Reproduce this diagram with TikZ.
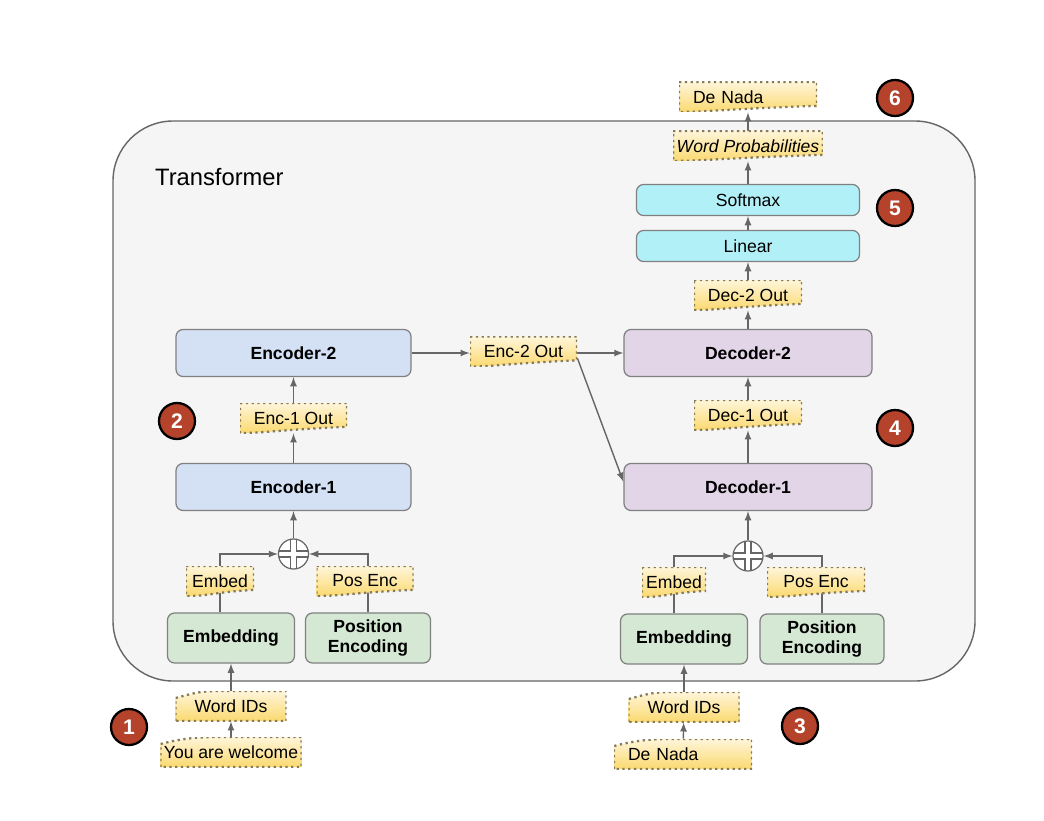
\documentclass[tikz,border=0pt]{standalone}
\usepackage{fontspec}
\setmainfont{Liberation Sans}
\usetikzlibrary{calc}

\definecolor{bggray}{HTML}{F5F5F5}
\definecolor{encblue}{HTML}{D4E1F5}
\definecolor{decpurple}{HTML}{E1D5E7}
\definecolor{embgreen}{HTML}{D5E8D4}
\definecolor{outcyan}{HTML}{B2F0F8}
\definecolor{tagtop}{HTML}{FFF6DA}
\definecolor{tagbot}{HTML}{FBD970}
\definecolor{tagline}{HTML}{857A5A}
\definecolor{numred}{HTML}{B5422B}
\definecolor{wire}{HTML}{666666}

\def\ppb{path picture bounding box}

\pgfdeclarelayer{back}
\pgfdeclarelayer{wires}
\pgfsetlayers{back,wires,main}

\tikzset{
  blk/.style={draw=black!50, rounded corners=4pt, line width=0.7pt, font=\bfseries, align=center},
  encbox/.style={blk, fill=encblue, minimum width=4.7cm, minimum height=0.94cm},
  decbox/.style={blk, fill=decpurple, minimum width=4.96cm, minimum height=0.94cm},
  embbox/.style={blk, fill=embgreen, minimum width=2.54cm, minimum height=1.0cm, font=\fontsize{10}{11.5}\selectfont\bfseries},
  outbox/.style={blk, fill=outcyan, minimum width=4.46cm, minimum height=0.62cm, font=\normalsize},
  tag/.style={minimum height=0.6cm, inner sep=2pt},
  lefttext/.style={inner xsep=0.28cm, text width=#1, align=left},
  tagout/.style={tag, path picture={
      \shadedraw[top color=tagtop, bottom color=tagbot, draw=tagline, dotted, line width=1.3pt]
        (\ppb.north west) -- (\ppb.north east) -- ([yshift=3.5pt]\ppb.south east)
        .. controls ([xshift=-0.2cm,yshift=2pt]\ppb.south) and ([xshift=0.5cm]\ppb.south west)
        .. (\ppb.south west) -- cycle;}},
  tagin/.style={tag, path picture={
      \shadedraw[top color=tagtop, bottom color=tagbot, draw=tagline, dotted, line width=1.3pt]
        (\ppb.south west) -- ([yshift=-4pt]\ppb.north west)
        .. controls ([xshift=0.4cm,yshift=-1pt]\ppb.north west) and ([xshift=-0.4cm]$(\ppb.north west)!0.4!(\ppb.north east)$)
        .. ($(\ppb.north west)!0.4!(\ppb.north east)$) -- (\ppb.north east) -- (\ppb.south east) -- cycle;}},
  num/.style={circle, fill=numred, draw=black, line width=1.3pt, minimum size=0.72cm, inner sep=0pt,
    text=white, font=\large\bfseries},
  plus/.style={circle, draw=wire, fill=white, line width=0.7pt, minimum size=0.6cm, inner sep=0pt,
    path picture={
      \draw[wire, line width=4.2pt] (\ppb.north) -- (\ppb.south) (\ppb.west) -- (\ppb.east);
      \draw[white, line width=2.8pt] (\ppb.north) -- (\ppb.south) (\ppb.west) -- (\ppb.east);}},
  arr/.style={draw=wire, line width=0.8pt, -latex},
}

\begin{document}
\begin{tikzpicture}
    \useasboundingbox (0,0) rectangle (20.88,-16.4);

    \begin{pgfonlayer}{back}
    \node[draw=black!60, fill=bggray, rounded corners=1.2cm, line width=0.8pt,
          minimum width=17.24cm, minimum height=11.2cm] (trf) at (10.88,-8.02) {};
    \end{pgfonlayer}
    \node[anchor=west, font=\fontsize{13.5}{16}\selectfont] (title) at (2.98,-3.54) {Transformer};

    % encoder side
    \node[encbox] (enctwo) at (5.87,-7.06) {Encoder-2};
    \node[tagout, minimum width=2.14cm] (enconeout) at (5.87,-8.36) {Enc-1 Out};
    \node[encbox] (encone) at (5.87,-9.74) {Encoder-1};
    \node[plus] (plusenc) at (5.87,-11.08) {};
    \node[tagout, minimum width=1.36cm] (embedtagL) at (4.40,-11.62) {Embed};
    \node[tagout, minimum width=1.94cm] (posenctagL) at (7.30,-11.62) {Pos Enc};
    \node[embbox] (embL) at (4.62,-12.76) {Embedding};
    \node[embbox, minimum width=2.5cm] (posL) at (7.36,-12.76) {Position\\Encoding};
    \node[tagin, minimum width=2.22cm] (wordidsL) at (4.62,-14.12) {Word IDs};
    \node[tagin, minimum width=2.76cm] (youare) at (4.62,-15.04) {You are welcome};

    % decoder side
    \node[tagout, minimum width=2.14cm] (enctwoout) at (10.47,-7.03) {Enc-2 Out};
    \node[decbox] (dectwo) at (14.96,-7.06) {Decoder-2};
    \node[tagout, minimum width=2.16cm] (deconeout) at (14.96,-8.30) {Dec-1 Out};
    \node[decbox] (decone) at (14.96,-9.74) {Decoder-1};
    \node[tagout, minimum width=2.16cm] (dectwoout) at (14.96,-5.90) {Dec-2 Out};
    \node[outbox] (linear) at (14.96,-4.92) {Linear};
    \node[outbox] (softmax) at (14.96,-4.00) {Softmax};
    \node[tagout, minimum width=2.88cm, font=\itshape] (wordprob) at (14.96,-2.92) {Word Probabilities};
    \node[tagout, lefttext=2.2cm] (denadaout) at (14.96,-1.94) {De Nada};
    \node[plus] (plusdec) at (14.96,-11.12) {};
    \node[tagout, minimum width=1.28cm] (embedtagR) at (13.48,-11.64) {Embed};
    \node[tagout, minimum width=1.96cm] (posenctagR) at (16.32,-11.64) {Pos Enc};
    \node[embbox] (embR) at (13.68,-12.78) {Embedding};
    \node[embbox, minimum width=2.48cm] (posR) at (16.44,-12.78) {Position\\Encoding};
    \node[tagin, minimum width=2.22cm] (wordidsR) at (13.68,-14.14) {Word IDs};
    \node[tagin, lefttext=2.2cm] (denadain) at (13.66,-15.08) {De Nada};

    % step numbers
    \node[num] (n1) at (2.58,-14.54) {1};
    \node[num] (n2) at (3.54,-8.42) {2};
    \node[num] (n3) at (16.0,-14.52) {3};
    \node[num] (n4) at (17.9,-8.56) {4};
    \node[num] (n5) at (17.9,-4.16) {5};
    \node[num] (n6) at (17.9,-1.96) {6};

    \begin{pgfonlayer}{wires}
    \draw[arr] (youare) -- (wordidsL);
    \draw[arr] (wordidsL) -- (embL);
    \draw[arr] (embedtagL |- embL.north) |- (plusenc.west);
    \draw[arr] (posL.north) |- (plusenc.east);
    \draw[arr] (plusenc) -- (encone);
    \draw[arr] (encone) -- (enconeout);
    \draw[arr] (enconeout) -- (enctwo);
    \draw[arr] (enctwo.east) -- (enctwoout.west |- enctwo.east);
    \draw[arr] (enctwoout.east |- dectwo.west) -- (dectwo.west);
    \draw[arr] ([yshift=5pt]enctwoout.south east) -- ([yshift=3pt]decone.west);

    \draw[arr] (denadain) -- (wordidsR);
    \draw[arr] (wordidsR) -- (embR);
    \draw[arr] (embedtagR |- embR.north) |- (plusdec.west);
    \draw[arr] (posR.north) |- (plusdec.east);
    \draw[arr] (plusdec) -- (decone);
    \draw[arr] (decone) -- (deconeout);
    \draw[arr] (deconeout) -- (dectwo);
    \draw[arr] (dectwo) -- (dectwoout);
    \draw[arr] (dectwoout) -- (linear);
    \draw[arr] (linear) -- (softmax);
    \draw[arr] (softmax) -- (wordprob);
    \draw[arr] (wordprob) -- (denadaout);
    \end{pgfonlayer}

  \end{tikzpicture}
\end{document}
